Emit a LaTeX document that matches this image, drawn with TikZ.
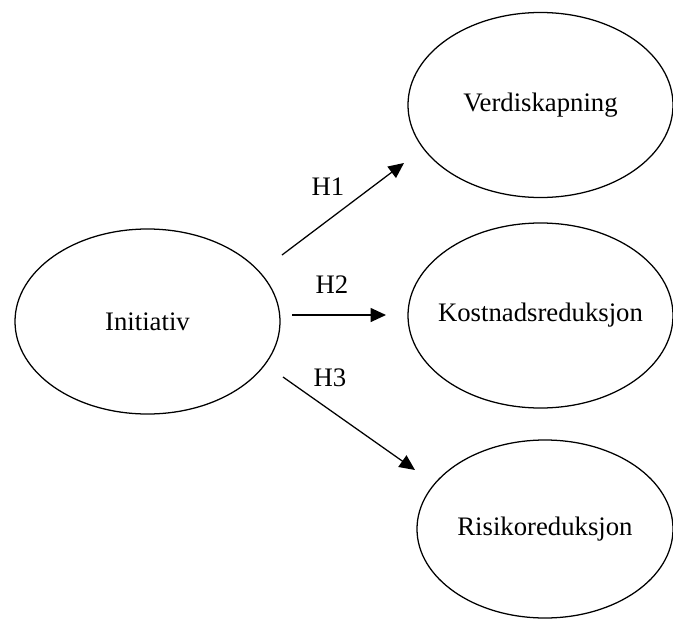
\documentclass[tikz,border=0pt]{standalone}
\usepackage{fontspec}
\setmainfont{Liberation Serif}
\usetikzlibrary{arrows.meta,shapes.geometric}
\newcommand\vartext[1]{\makebox[0pt]{#1}}

\begin{document}
\begin{tikzpicture}[x=0.025cm,y=-0.025cm,
  font=\fontsize{19}{23}\selectfont,
  var/.style={draw,ellipse,line width=0.9pt,inner sep=0pt,minimum width=265*0.025cm,minimum height=185*0.025cm},
  arr/.style={-{Triangle[length=11pt,width=10pt]},line width=0.9pt},
  lab/.style={inner sep=0pt}]
\useasboundingbox (0,0) rectangle (673,619);
\node[var] (init) at (147.5,321.5) {\vartext{Initiativ}};
\node[var] (verdi) at (540.5,105) {\vartext{Verdiskapning}};
\node[var] (kost) at (540.5,315.5) {\vartext{Kostnadsreduksjon}};
\node[var,minimum width=256*0.025cm,minimum height=178*0.025cm] (risiko) at (545,529) {\vartext{Risikoreduksjon}};
% arrow ends (gap to the ellipses)
\coordinate (h1s) at (282,255); \coordinate (h1e) at (404,163);
\coordinate (h2s) at (292,315); \coordinate (h2e) at (386,315);
\coordinate (h3s) at (283,377); \coordinate (h3e) at (415,470);
\draw[arr] (h1s) -- (h1e);
\draw[arr] (h2s) -- (h2e);
\draw[arr] (h3s) -- (h3e);
\node[lab] (h1) at (328,187) {H1};
\node[lab] (h2) at (332,285) {H2};
\node[lab] (h3) at (330,378) {H3};
\end{tikzpicture}
\end{document}
